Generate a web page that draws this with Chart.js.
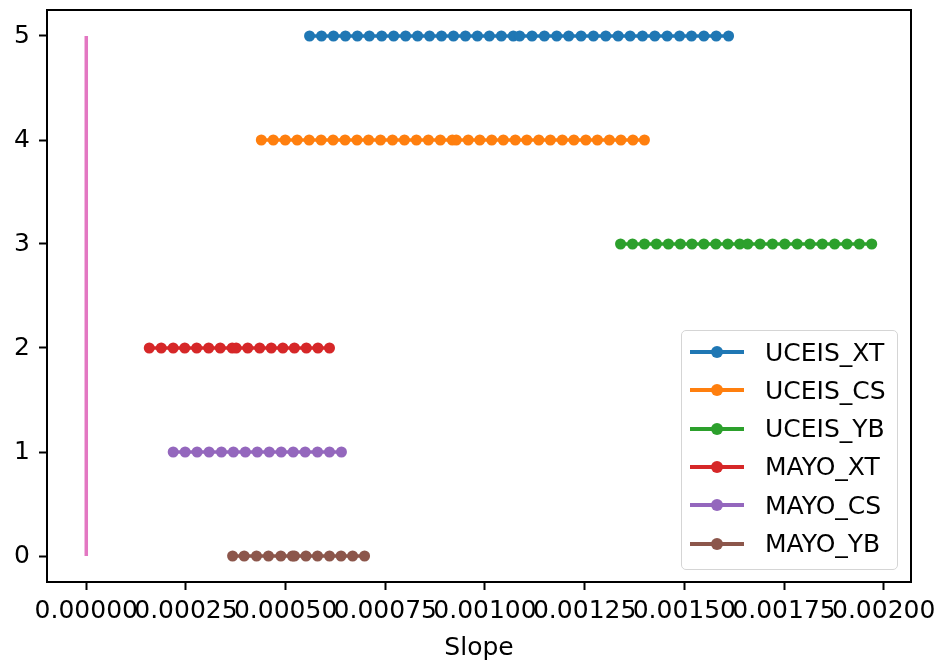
<!DOCTYPE html>
<html>
<head>
<meta charset="utf-8">
<script src="https://cdn.jsdelivr.net/npm/chart.js@4/dist/chart.umd.min.js"></script>
<style>
  body { margin: 0; background: #fff; }
  #wrap { position: relative; width: 939px; height: 661px; }
  #legend {
    position: absolute; left: 681px; top: 330px; width: 215px; height: 238px;
    border: 1.5px solid #d5d5d5; border-radius: 5px; background: rgba(255,255,255,0.8);
    font-family: "DejaVu Sans", sans-serif; font-size: 25px; color: #000;
  }
  .row { position: absolute; left: 0; height: 30px; display: flex; align-items: center; }
  .sw { position: relative; width: 54px; height: 30px; margin-left: 8px; margin-right: 21px; }
  .sw .ln { position: absolute; left: 0; right: 0; top: 13px; height: 4px; }
  .sw .dot { position: absolute; left: 21px; top: 9px; width: 12px; height: 12px; border-radius: 50%; }
</style>
</head>
<body>
<div id="wrap">
  <canvas id="c" width="939" height="661"></canvas>
  <div id="legend"></div>
</div>
<script>
// slope values per model
const seriesNames = ["UCEIS_XT", "UCEIS_CS", "UCEIS_YB", "MAYO_XT", "MAYO_CS", "MAYO_YB"];
const seriesColors = ["#1f77b4", "#ff7f0e", "#2ca02c", "#d62728", "#9467bd", "#8c564b"];
const yLevels = [5, 4, 3, 2, 1, 0];

const uceisXT = [
  0.000560, 0.000590, 0.000620, 0.000650, 0.000680, 0.000710, 0.000741, 0.000771, 0.000801,
  0.000831, 0.000861, 0.000891, 0.000921, 0.000951, 0.000981, 0.001011, 0.001041, 0.001071,
  0.001087, 0.001118, 0.001149, 0.001180, 0.001210, 0.001241, 0.001272, 0.001303, 0.001334,
  0.001364, 0.001395, 0.001426, 0.001457, 0.001488, 0.001518, 0.001549, 0.001580, 0.001611
];
const uceisCS = [
  0.000439, 0.000469, 0.000499, 0.000529, 0.000559, 0.000589, 0.000619, 0.000649, 0.000679,
  0.000708, 0.000738, 0.000768, 0.000798, 0.000828, 0.000858, 0.000888, 0.000918,
  0.000928, 0.000958, 0.000987, 0.001017, 0.001046, 0.001076, 0.001105, 0.001135, 0.001164,
  0.001194, 0.001223, 0.001253, 0.001282, 0.001312, 0.001341, 0.001371, 0.001400
];
const uceisYB = [
  0.001340, 0.001370, 0.001400, 0.001430, 0.001460, 0.001490, 0.001519, 0.001549, 0.001579,
  0.001609, 0.001639,
  0.001659, 0.001690, 0.001721, 0.001752, 0.001783, 0.001815, 0.001846, 0.001877, 0.001908,
  0.001939, 0.001970
];
const mayoXT = [
  0.000158, 0.000188, 0.000218, 0.000247, 0.000277, 0.000307, 0.000336, 0.000366,
  0.000376, 0.000405, 0.000435, 0.000464, 0.000493, 0.000522, 0.000552, 0.000581, 0.000610
];
const mayoCS = [
  0.000218, 0.000248, 0.000278, 0.000308, 0.000339, 0.000369, 0.000399, 0.000429,
  0.000459, 0.000489, 0.000519, 0.000549, 0.000580, 0.000610, 0.000640
];
const mayoYB = [
  0.000367, 0.000396, 0.000427, 0.000457, 0.000488, 0.000517, 0.000522,
  0.000551, 0.000580, 0.000610, 0.000639, 0.000668, 0.000698
];
const seriesX = [uceisXT, uceisCS, uceisYB, mayoXT, mayoCS, mayoYB];

// zero reference line
const zeroLineX = [0, 0];
const zeroLineY = [0, 5];

const xTicks = [0, 0.00025, 0.0005, 0.00075, 0.001, 0.00125, 0.0015, 0.00175, 0.002];
const yTicks = [0, 1, 2, 3, 4, 5];

const FONT = "'DejaVu Sans', sans-serif";

const datasets = seriesNames.map((name, i) => ({
  label: name,
  data: seriesX[i].map((x) => ({ x, y: yLevels[i] })),
  borderColor: seriesColors[i],
  backgroundColor: seriesColors[i],
  borderWidth: 3.5,
  pointRadius: 5.5,
  pointBorderWidth: 0,
  showLine: true,
}));

datasets.push({
  label: "_zero",
  data: zeroLineX.map((x, i) => ({ x, y: zeroLineY[i] })),
  borderColor: "#e377c2",
  backgroundColor: "#e377c2",
  borderWidth: 3.5,
  pointRadius: 0,
  showLine: true,
});

// full box around the axes like matplotlib spines
const frame = {
  id: "frame",
  afterDraw(chart) {
    const { ctx, chartArea: a } = chart;
    ctx.save();
    ctx.strokeStyle = "#000";
    ctx.lineWidth = 2;
    ctx.strokeRect(a.left, a.top, a.right - a.left, a.bottom - a.top);
    ctx.restore();
  },
};

const chart = new Chart(document.getElementById("c").getContext("2d"), {
  type: "scatter",
  data: { datasets },
  options: {
    responsive: false,
    animation: false,
    devicePixelRatio: 1,
    layout: { padding: { left: 0, right: 28, top: 10, bottom: 0 } },
    plugins: { legend: { display: false }, tooltip: { enabled: false } },
    scales: {
      x: {
        type: "linear",
        min: -0.0000985,
        max: 0.0020685,
        afterFit: (s) => { s.height = 79; s.paddingLeft = 0; s.paddingRight = 0; },
        afterBuildTicks: (s) => { s.ticks = xTicks.map((v) => ({ value: v })); },
        border: { color: "#000", width: 2 },
        grid: { drawOnChartArea: false, tickLength: 8, tickColor: "#000", tickWidth: 2 },
        ticks: {
          autoSkip: false, maxRotation: 0, minRotation: 0, padding: 6,
          color: "#000", font: { family: FONT, size: 25 },
          callback: (v) => Number(v).toFixed(5),
        },
        title: {
          display: true, text: "Slope", color: "#000",
          font: { family: FONT, size: 25, lineHeight: 1 },
          padding: { top: 0, bottom: 0 },
        },
      },
      y: {
        type: "linear",
        min: -0.25,
        max: 5.25,
        afterFit: (s) => { s.width = 47; s.paddingTop = 0; s.paddingBottom = 0; },
        afterBuildTicks: (s) => { s.ticks = yTicks.map((v) => ({ value: v })); },
        border: { color: "#000", width: 2 },
        grid: { drawOnChartArea: false, tickLength: 8, tickColor: "#000", tickWidth: 2 },
        ticks: {
          padding: 9, color: "#000", font: { family: FONT, size: 25 },
          callback: (v) => String(v),
        },
      },
    },
  },
  plugins: [frame],
});

// legend box in the lower right, built from the datasets
const legend = document.getElementById("legend");
chart.data.datasets
  .filter((d) => !d.label.startsWith("_"))
  .forEach((d, i) => {
    const row = document.createElement("div");
    row.className = "row";
    row.style.top = 6 + i * 38.3 + "px";
    row.innerHTML =
      `<span class="sw"><span class="ln" style="background:${d.borderColor}"></span>` +
      `<span class="dot" style="background:${d.borderColor}"></span></span>` +
      `<span>${d.label}</span>`;
    legend.appendChild(row);
  });
</script>
</body>
</html>
